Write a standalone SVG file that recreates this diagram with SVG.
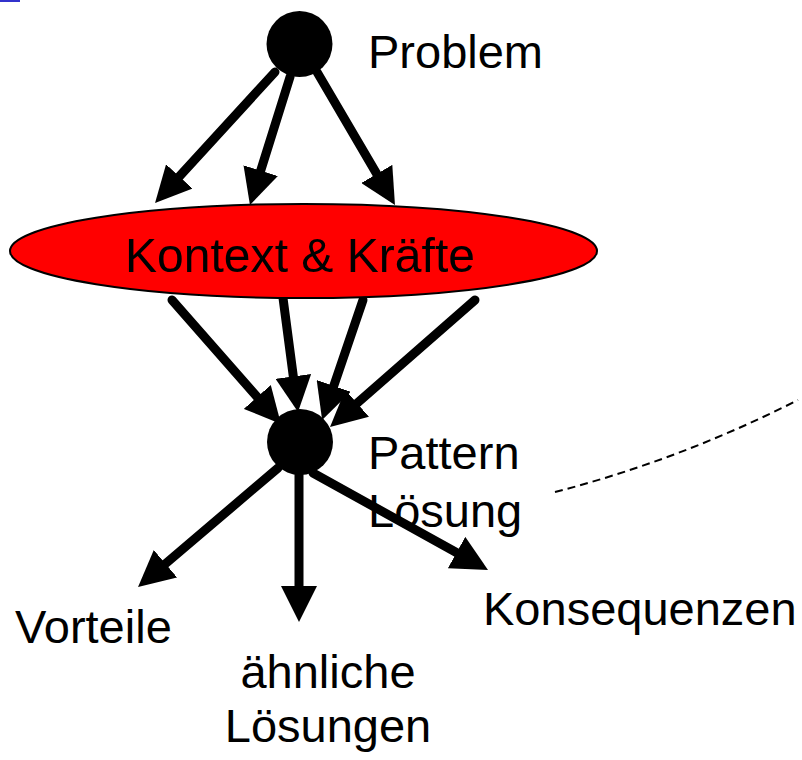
<svg xmlns="http://www.w3.org/2000/svg" width="802" height="760" viewBox="0 0 802 760">
  <style>
    .lbl { font-family: "Liberation Sans", Arial, sans-serif; font-size: 47px; fill: #000; }
    .big { font-size: 49px; }
    .arrow { stroke: #000; stroke-width: 9; stroke-linecap: round; fill: none; marker-end: url(#head); }
    .dot { fill: #000; }
  </style>
  <defs>
    <marker id="head" markerUnits="userSpaceOnUse" viewBox="0 0 36 36" markerWidth="36" markerHeight="36" refX="6" refY="18" orient="auto">
      <path d="M0,0 L36,18 L0,36 Z" fill="#000"/>
    </marker>
  </defs>

  <rect x="0" y="0" width="20" height="2" fill="#3333cc"/>

  <!-- connectors -->
  <g id="connectors">
    <line class="arrow" x1="275" y1="72" x2="175.3" y2="180.9"/>
    <line class="arrow" x1="290" y1="77" x2="258.9" y2="176.4"/>
    <line class="arrow" x1="317" y1="72" x2="379.8" y2="179.1"/>

    <line class="arrow" x1="172" y1="300" x2="261.2" y2="401.5"/>
    <line class="arrow" x1="283" y1="298" x2="294.1" y2="382.3"/>
    <line class="arrow" x1="363" y1="300" x2="331.8" y2="391.6"/>
    <line class="arrow" x1="475" y1="300" x2="352.6" y2="407.2"/>

    <line class="arrow" x1="278" y1="468" x2="160.9" y2="567.6"/>
    <line class="arrow" x1="299" y1="473" x2="299" y2="592"/>
    <line class="arrow" x1="313" y1="473" x2="461.8" y2="555.5"/>

    <path d="M555,492 Q679.5,460 798,400" fill="none" stroke="#000" stroke-width="2" stroke-dasharray="8,5"/>
  </g>

  <g id="problem">
    <circle class="dot" cx="299.5" cy="44" r="33"/>
    <text class="lbl" x="368" y="68">Problem</text>
  </g>

  <g id="kontext">
    <ellipse cx="303.5" cy="251" rx="293.5" ry="47" fill="#ff0000" stroke="#000" stroke-width="2"/>
    <text class="lbl big" x="125" y="272" textLength="350" lengthAdjust="spacingAndGlyphs">Kontext &amp; Kräfte</text>
  </g>

  <g id="pattern">
    <circle class="dot" cx="300" cy="442" r="33"/>
    <text class="lbl" x="368" y="469">Pattern</text>
    <text class="lbl" x="368" y="527">Lösung</text>
  </g>

  <g id="vorteile">
    <text class="lbl" x="15" y="643">Vorteile</text>
  </g>

  <g id="aehnliche">
    <text class="lbl" x="328" y="688" text-anchor="middle">ähnliche</text>
    <text class="lbl" x="328" y="742" text-anchor="middle">Lösungen</text>
  </g>

  <g id="konsequenzen">
    <text class="lbl" x="483" y="625">Konsequenzen</text>
  </g>
</svg>
